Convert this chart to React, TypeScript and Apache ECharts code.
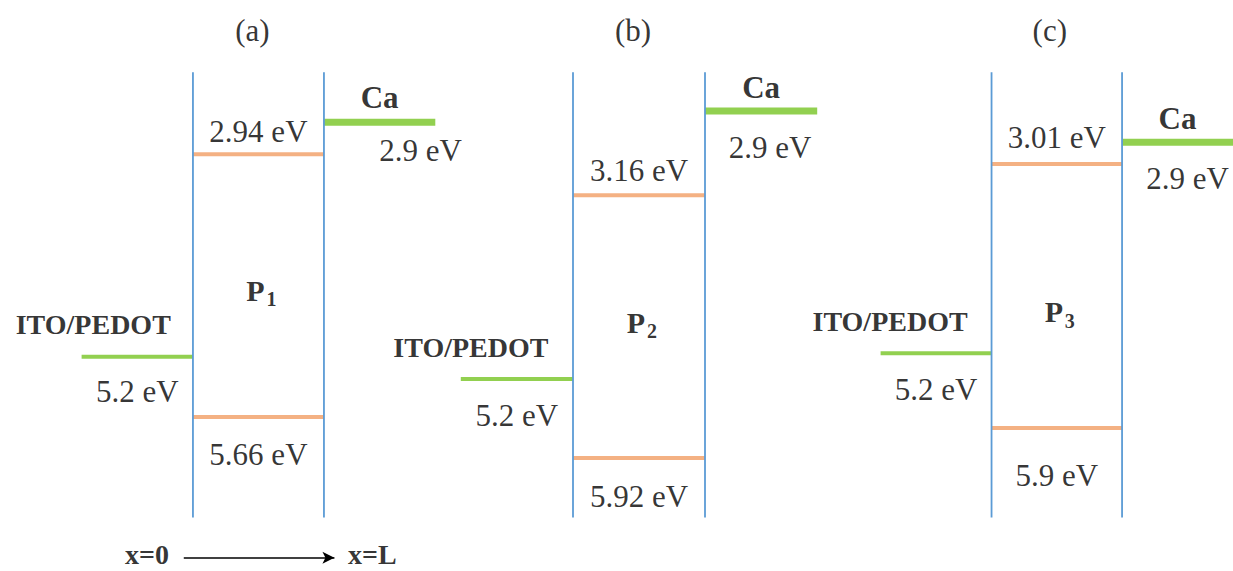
import React, { useEffect, useRef } from "react";
import * as echarts from "echarts";

// ---- data ----
const panelTitles = ["(a)", "(b)", "(c)"];
const polymerIndex = ["1", "2", "3"];
const lumoEnergy = [2.94, 3.16, 3.01]; // eV
const homoEnergy = [5.66, 5.92, 5.9]; // eV
const caEnergy = [2.9, 2.9, 2.9]; // eV
const itoEnergy = [5.2, 5.2, 5.2]; // eV
// schematic drawn heights of the levels (0 = top of polymer column, 100 = bottom)
const lumoLevel = [18.4, 27.6, 20.6];
const homoLevel = [77.4, 86.6, 79.9];
const caLevel = [11.2, 8.7, 15.7];
const itoLevel = [63.9, 68.9, 63.1];
const polymerLabelLevel = [48.9, 56.1, 53.8];
// layer boundaries in units of L: ITO/PEDOT | polymer (x=0..x=L) | Ca
const layerEdges = [-0.85, 0, 1, 1.85];
const columnSpan = [0, 100];
const axisLabels = ["x=0", "x=L"];

// ---- layout / styles ----
const GRIDS = [
  { left: 81.6, width: 353.7 },
  { left: 460.8, width: 356.4 },
  { left: 880.6, width: 353.7 },
];
const OFFS = [
  { title: -6, lumo: -23, homo: 38, ca: -25, caVal: [41, 28], ito: [-44, -32], itoVal: 35 },
  { title: -6, lumo: -25, homo: 39, ca: -24, caVal: [9, 36], ito: [-46, -32], itoVal: 36 },
  { title: -7, lumo: -27, homo: 47, ca: -24, caVal: [10, 36], ito: [-46, -32], itoVal: 36 },
];
const SERIF = "'Liberation Serif', 'Times New Roman', serif";
const BLUE = "#5B9BD5";
const ORANGE = "#F4B183";
const GREEN = "#92D050";
const FS = 31;

const ev = (v: number) => `${v} eV`;

function seg(i: number, x1: number, x2: number, y1: number, y2: number, color: string, width: number, z: number) {
  return {
    type: "line",
    xAxisIndex: i,
    yAxisIndex: i,
    data: [[x1, y1], [x2, y2]],
    symbol: "none",
    silent: true,
    z,
    lineStyle: { color, width, cap: "butt" },
  };
}

function txt(x: number, y: number, text: string, offset: number[], bold = false, size = FS) {
  return {
    value: [x, y],
    label: {
      show: true,
      position: "inside",
      formatter: text,
      offset,
      color: "#000",
      fontFamily: SERIF,
      fontSize: size,
      fontWeight: bold ? "bold" : "normal",
      align: "center",
      verticalAlign: "middle",
    },
  };
}

export default function App() {
  const ref = useRef<HTMLDivElement>(null);
  useEffect(() => {
    if (!ref.current) return;
    const chart = echarts.init(ref.current, null, { renderer: "svg" });
    const grid = GRIDS.map((g) => ({ left: g.left, width: g.width, top: 10, height: 561 }));
    const xAxis = GRIDS.map((_, i) => ({
      type: "value",
      gridIndex: i,
      min: layerEdges[0],
      max: layerEdges[3],
      show: false,
    }));
    const yAxis = GRIDS.map((_, i) => ({
      type: "value",
      gridIndex: i,
      min: -14,
      max: 112,
      inverse: true,
      show: false,
    }));
    const series: any[] = [];
    GRIDS.forEach((_, i) => {
      const o = OFFS[i];
      const [xI, x0, x1, xC] = layerEdges;
      series.push(seg(i, x0, x1, lumoLevel[i], lumoLevel[i], ORANGE, 4, 2));
      series.push(seg(i, x0, x1, homoLevel[i], homoLevel[i], ORANGE, 4, 2));
      series.push(seg(i, x1, xC, caLevel[i], caLevel[i], GREEN, 7, 2));
      series.push(seg(i, xI, x0, itoLevel[i], itoLevel[i], GREEN, 4, 2));
      series.push(seg(i, x0, x0, columnSpan[0], columnSpan[1], BLUE, 1.8, 3));
      series.push(seg(i, x1, x1, columnSpan[0], columnSpan[1], BLUE, 1.8, 3));
      const mid = (x0 + x1) / 2;
      const caMid = (x1 + xC) / 2;
      const itoMid = (xI + x0) / 2;
      const labels: any[] = [
        txt(mid, -9.5, panelTitles[i], [o.title, 0]),
        txt(mid, lumoLevel[i], ev(lumoEnergy[i]), [0, o.lumo]),
        txt(mid, homoLevel[i], ev(homoEnergy[i]), [0, o.homo]),
        txt(caMid, caLevel[i], "Ca", [0, o.ca], true),
        txt(caMid, caLevel[i], ev(caEnergy[i]), o.caVal),
        txt(itoMid, itoLevel[i], "ITO/PEDOT", o.ito, true, 28),
        txt(itoMid, itoLevel[i], ev(itoEnergy[i]), [0, o.itoVal]),
        txt(mid, polymerLabelLevel[i], "P", [-3, 0], true, 30),
        txt(mid, polymerLabelLevel[i], polymerIndex[i], [13, 9], true, 20),
      ];
      const sc: any = {
        type: "scatter",
        xAxisIndex: i,
        yAxisIndex: i,
        symbolSize: 0,
        silent: true,
        z: 5,
        data: labels,
      };
      if (i === 0) {
        sc.data.push(txt(-0.35, 108.2, axisLabels[0], [0, 0], true, 28));
        sc.data.push(txt(1.37, 108.2, axisLabels[1], [0, 0], true, 28));
        sc.markLine = {
          silent: true,
          symbol: ["none", "arrow"],
          symbolSize: [9, 12],
          label: { show: false },
          lineStyle: { color: "#000", width: 1.5, type: "solid" },
          data: [[{ coord: [-0.07, 109.0] }, { coord: [1.08, 109.0] }]],
        };
      }
      series.push(sc);
    });
    chart.setOption({
      animation: false,
      backgroundColor: "#fff",
      grid,
      xAxis,
      yAxis,
      series,
    });
    return () => chart.dispose();
  }, []);
  return (
    <div
      ref={ref}
      style={{ position: "fixed", left: 0, top: 0, width: 1233, height: 571, background: "#fff" }}
    />
  );
}
